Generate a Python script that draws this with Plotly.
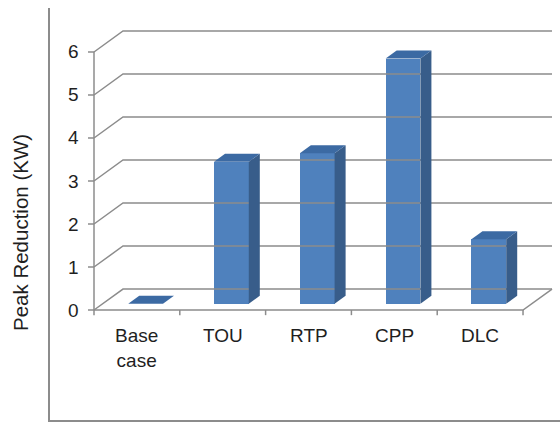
#### Peak reduction per pricing program, Excel style 3-D column chart
import plotly.graph_objects as go

programs = ['Base<br>case', 'TOU', 'RTP', 'CPP', 'DLC']
peak_reduction = [0, 3.3, 3.5, 5.7, 1.5]
y_ticks = [0, 1, 2, 3, 4, 5, 6]

# fake depth of the 3-D box, in data units
DX = 0.338
DY = 0.488
# bars sit in the middle of the depth
BAR_START = 0.30
BAR_DEPTH = 0.38
BAR_WIDTH = 0.405

GRID = '#8c8c8c'
FRONT = '#4f81bd'
SIDE = '#385d8a'
TOP = '#3c6aa3'

fig = go.Figure()

# walls and floor lines
gx, gy = [], []
for v in y_ticks:
    gx += [0, DX, len(programs) + DX, None]
    gy += [v, v + DY, v + DY, None]
gx += [0, 0, None, 0, len(programs), len(programs) + DX, None]
gy += [y_ticks[-1], 0, None, 0, 0, DY, None]
# tick marks
for v in y_ticks:
    gx += [-0.07, 0, None]
    gy += [v, v, None]
for i in range(len(programs) + 1):
    gx += [i, i, None]
    gy += [0, -0.12, None]
fig.add_trace(go.Scatter(x=gx, y=gy, mode='lines', line=dict(color=GRID, width=1.5),
                         hoverinfo='skip', showlegend=False))

# front faces of the columns
centers = [i + 0.5 + BAR_START * DX for i in range(len(programs))]
base = BAR_START * DY
fig.add_trace(go.Bar(x=centers, y=peak_reduction, base=base, width=BAR_WIDTH,
                     marker=dict(color=FRONT, line=dict(width=0)), showlegend=False))

# side and top faces
ddx = BAR_DEPTH * DX
ddy = BAR_DEPTH * DY
for c, v in zip(centers, peak_reduction):
    left = c - BAR_WIDTH / 2
    right = c + BAR_WIDTH / 2
    top = base + v
    if v > 0:
        fig.add_trace(go.Scatter(x=[right, right + ddx, right + ddx, right, right],
                                 y=[base, base + ddy, top + ddy, top, base],
                                 fill='toself', fillcolor=SIDE, mode='lines',
                                 line=dict(width=0, color=SIDE), hoverinfo='skip', showlegend=False))
    fig.add_trace(go.Scatter(x=[left, right, right + ddx, left + ddx, left],
                             y=[top, top, top + ddy, top + ddy, top],
                             fill='toself', fillcolor=TOP, mode='lines',
                             line=dict(width=0, color=TOP), hoverinfo='skip', showlegend=False))

# tick labels
for v in y_ticks:
    fig.add_annotation(x=-0.15, y=v, text=str(v), showarrow=False, xanchor='right', yanchor='middle')
for i, p in enumerate(programs):
    fig.add_annotation(x=i + 0.5, y=-0.30, text=p, showarrow=False, xanchor='center', yanchor='top',
                       font=dict(lineposition='none'))

fig.add_annotation(xref='paper', yref='paper', x=-0.059, y=0.456, text='Peak Reduction (KW)',
                   textangle=-90, showarrow=False, xanchor='center', yanchor='middle',
                   font=dict(size=20.5))

fig.update_layout(width=560, height=422, plot_bgcolor='white', paper_bgcolor='white',
                  font=dict(family='Liberation Sans, Arial', size=19, color='#1f1f1f'),
                  margin=dict(l=50, r=0, t=8, b=2), bargap=0)
fig.update_xaxes(range=[-0.5128, 5.431], showgrid=False, zeroline=False, showticklabels=False,
                 showline=True, linecolor=GRID, linewidth=1.5, fixedrange=True)
fig.update_yaxes(range=[-2.558, 7.023], showgrid=False, zeroline=False, showticklabels=False,
                 showline=True, linecolor=GRID, linewidth=1.5, fixedrange=True)

# browser body margin would push the chart off by 8px
fig.write_html("out.html", config={'displayModeBar': False},
               post_script="document.body.style.margin='0';")
